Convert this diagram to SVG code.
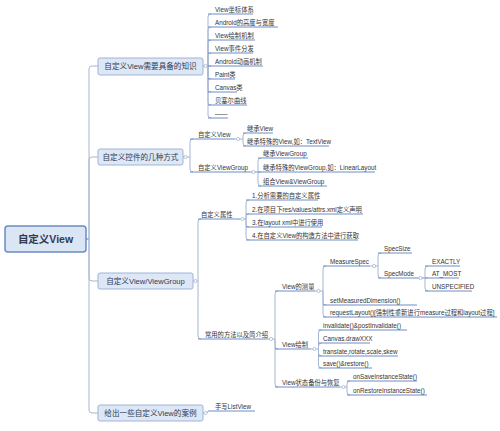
<svg xmlns="http://www.w3.org/2000/svg" width="500" height="431" viewBox="0 0 500 431">
<style>
text{font-family:"Liberation Sans","Noto Sans CJK SC",sans-serif;}
.t{font-size:6.3px;fill:#333;}
.u{stroke:#6d8dc7;stroke-width:1;}
.c{fill:none;stroke:#a6b6d3;stroke-width:1;}
.k{fill:#fff;stroke:#a6b6d3;stroke-width:0.8;}
.b{fill:#dde7f5;stroke:#9fb4d8;stroke-width:1;}
.bt{font-size:7.6px;fill:#2f3b52;text-anchor:middle;}
.r{fill:#dbe6f5;stroke:#6a8cc4;stroke-width:1.5;}
.rt{font-size:10.5px;font-weight:bold;fill:#2f3b52;text-anchor:middle;}
</style>
<rect width="500" height="431" fill="#fff"/>
<g id="connectors">
<path class="c" d="M86 239 H89 V69 Q89 66 92 66 H98"/>
<path class="c" d="M86 239 H89 V160 Q89 157 92 157 H98"/>
<path class="c" d="M86 239 H89 V278 Q89 281 92 281 H98"/>
<path class="c" d="M86 239 H89 V410 Q89 413 92 413 H98"/>
<path class="c" d="M203 66 H208 V17 Q208 14 211 14 M208 66 V30 Q208 27 211 27 M208 66 V43 Q208 40 211 40 M208 66 V56 Q208 53 211 53 M203 66 H211 M208 66 V76 Q208 79 211 79 M208 66 V89 Q208 92 211 92 M208 66 V102 Q208 105 211 105 M208 66 V115 Q208 118 211 118"/>
<path class="c" d="M183 157 H190 V142 Q190 139 193 139 M190 157 V169 Q190 172 193 172"/>
<path class="c" d="M235 139 H243 V136 Q243 133 246 133 M243 139 V143 Q243 146 246 146"/>
<path class="c" d="M250 172 H258 V161 Q258 158 261 158 M250 172 H261 M258 172 V183 Q258 186 261 186"/>
<path class="c" d="M193 281 H198 V222 Q198 219 201 219 M198 281 V336 Q198 339 201 339"/>
<path class="c" d="M240 219 H246 V203 Q246 200 249 200 M246 219 V217 Q246 214 249 214 M246 219 V224 Q246 227 249 227 M246 219 V237 Q246 240 249 240"/>
<path class="c" d="M268 339 H275 V294 Q275 291 278 291 M275 339 V346 Q275 349 278 349 M275 339 V384 Q275 387 278 387"/>
<path class="c" d="M315 291 H323 V269 Q323 266 326 266 M323 291 V302 Q323 305 326 305 M323 291 V314 Q323 317 326 317"/>
<path class="c" d="M370 266 H378 V256 Q378 253 381 253 M378 266 V275 Q378 278 381 278"/>
<path class="c" d="M417 278 H425 V269 Q425 266 428 266 M417 278 H428 M425 278 V288 Q425 291 428 291"/>
<path class="c" d="M311 349 H318.5 V333 Q318.5 330 321.5 330 M318.5 349 V346 Q318.5 343 321.5 343 M318.5 349 V353 Q318.5 356 321.5 356 M318.5 349 V365 Q318.5 368 321.5 368"/>
<path class="c" d="M340 387 H347 V384 Q347 381 350 381 M347 387 V392 Q347 395 350 395"/>
<path class="c" d="M203 413 H206 Q208 413 208 411"/>
<circle class="k" cx="205.5" cy="66" r="1.6"/>
<circle class="k" cx="185.5" cy="157" r="1.6"/>
<circle class="k" cx="238" cy="139" r="1.6"/>
<circle class="k" cx="253.5" cy="172" r="1.6"/>
<circle class="k" cx="195.5" cy="281" r="1.6"/>
<circle class="k" cx="242.5" cy="219" r="1.6"/>
<circle class="k" cx="271" cy="339" r="1.6"/>
<circle class="k" cx="318.5" cy="291" r="1.6"/>
<circle class="k" cx="374" cy="266" r="1.6"/>
<circle class="k" cx="420.5" cy="278" r="1.6"/>
<circle class="k" cx="314.5" cy="349" r="1.6"/>
<circle class="k" cx="343.5" cy="387" r="1.6"/>
<circle class="k" cx="205.5" cy="413" r="1.6"/>
</g>
<g id="root"><rect class="r" x="5" y="226" width="81" height="26" rx="3"/><text class="rt" x="45.5" y="243">自定义View</text></g>
<g id="b1"><rect class="b" x="98" y="58" width="105" height="17" rx="2"/><text class="bt" x="150.5" y="69.3">自定义View需要具备的知识</text></g>
<g id="b2"><rect class="b" x="98" y="149" width="85" height="16" rx="2"/><text class="bt" x="140.5" y="159.8">自定义控件的几种方式</text></g>
<g id="b3"><rect class="b" x="98" y="273" width="95" height="16" rx="2"/><text class="bt" x="145.5" y="283.8">自定义View/ViewGroup</text></g>
<g id="b4"><rect class="b" x="98" y="405" width="105" height="16" rx="2"/><text class="bt" x="150.5" y="415.8">给出一些自定义View的案例</text></g>
<g id="n1a"><line class="u" x1="208" y1="14" x2="253" y2="14"/><text class="t" x="215" y="12">View坐标体系</text></g>
<g id="n1b"><line class="u" x1="208" y1="27" x2="278" y2="27"/><text class="t" x="215" y="25">Android的高度与宽度</text></g>
<g id="n1c"><line class="u" x1="208" y1="40" x2="255" y2="40"/><text class="t" x="215" y="38">View绘制机制</text></g>
<g id="n1d"><line class="u" x1="208" y1="53" x2="253" y2="53"/><text class="t" x="215" y="51">View事件分发</text></g>
<g id="n1e"><line class="u" x1="208" y1="66" x2="263" y2="66"/><text class="t" x="215" y="64">Android动画机制</text></g>
<g id="n1f"><line class="u" x1="208" y1="79" x2="235" y2="79"/><text class="t" x="215" y="77">Paint类</text></g>
<g id="n1g"><line class="u" x1="208" y1="92" x2="237" y2="92"/><text class="t" x="215" y="90">Canvas类</text></g>
<g id="n1h"><line class="u" x1="208" y1="105" x2="247" y2="105"/><text class="t" x="215" y="103">贝塞尔曲线</text></g>
<g id="n1i"><line class="u" x1="208" y1="118" x2="228" y2="118"/><text class="t" x="215" y="116">——</text></g>
<g id="n2a"><line class="u" x1="190" y1="139" x2="235" y2="139"/><text class="t" x="198" y="137">自定义View</text></g>
<g id="n2a1"><line class="u" x1="243" y1="133" x2="273" y2="133"/><text class="t" x="247" y="131">继承View</text></g>
<g id="n2a2"><line class="u" x1="243" y1="146" x2="329" y2="146"/><text class="t" x="247" y="144">继承特殊的View,如：TextView</text></g>
<g id="n2b"><line class="u" x1="190" y1="172" x2="250" y2="172"/><text class="t" x="198" y="170">自定义ViewGroup</text></g>
<g id="n2b1"><line class="u" x1="258" y1="158" x2="308" y2="158"/><text class="t" x="263" y="156">继承ViewGroup</text></g>
<g id="n2b2"><line class="u" x1="258" y1="172" x2="375" y2="172"/><text class="t" x="263" y="170">继承特殊的ViewGroup,如：LinearLayout</text></g>
<g id="n2b3"><line class="u" x1="258" y1="186" x2="327" y2="186"/><text class="t" x="263" y="184">组合View&amp;ViewGroup</text></g>
<g id="n3a"><line class="u" x1="198" y1="219" x2="240" y2="219"/><text class="t" x="201" y="217">自定义属性</text></g>
<g id="n3a1"><line class="u" x1="246" y1="200" x2="318" y2="200"/><text class="t" x="252" y="198">1.分析需要的自定义属性</text></g>
<g id="n3a2"><line class="u" x1="246" y1="214" x2="363" y2="214"/><text class="t" x="252" y="212">2.在项目下res/values/attrs.xml定义声明</text></g>
<g id="n3a3"><line class="u" x1="246" y1="227" x2="322" y2="227"/><text class="t" x="252" y="225">3.在layout xml中进行使用</text></g>
<g id="n3a4"><line class="u" x1="246" y1="240" x2="358" y2="240"/><text class="t" x="252" y="238">4.在自定义View的构造方法中进行获取</text></g>
<g id="n3b"><line class="u" x1="198" y1="339" x2="268" y2="339"/><text class="t" x="205" y="337">常用的方法以及简介绍</text></g>
<g id="n3b1"><line class="u" x1="275" y1="291" x2="315" y2="291"/><text class="t" x="282" y="289">View的测量</text></g>
<g id="n3b1a"><line class="u" x1="323" y1="266" x2="370" y2="266"/><text class="t" x="330" y="264">MeasureSpec</text></g>
<g id="n3b1a1"><line class="u" x1="378" y1="253" x2="412" y2="253"/><text class="t" x="384" y="251">SpecSize</text></g>
<g id="n3b1a2"><line class="u" x1="378" y1="278" x2="417" y2="278"/><text class="t" x="384" y="276">SpecMode</text></g>
<g id="n3m1"><line class="u" x1="425" y1="266" x2="460" y2="266"/><text class="t" x="432" y="264">EXACTLY</text></g>
<g id="n3m2"><line class="u" x1="425" y1="278" x2="459" y2="278"/><text class="t" x="432" y="276">AT_MOST</text></g>
<g id="n3m3"><line class="u" x1="425" y1="291" x2="472" y2="291"/><text class="t" x="432" y="289">UNSPECIFIED</text></g>
<g id="n3b1b"><line class="u" x1="323" y1="305" x2="417" y2="305"/><text class="t" x="330" y="303">setMeasuredDimension()</text></g>
<g id="n3b1c"><line class="u" x1="323" y1="317" x2="497" y2="317"/><text class="t" x="330" y="315">requestLayout()[强制性重新进行measure过程和layout过程]</text></g>
<g id="n3b2"><line class="u" x1="275" y1="349" x2="311" y2="349"/><text class="t" x="282" y="347">View绘制</text></g>
<g id="n3b2a"><line class="u" x1="318.5" y1="330" x2="407" y2="330"/><text class="t" x="323" y="328">invalidate()&amp;postInvalidate()</text></g>
<g id="n3b2b"><line class="u" x1="318.5" y1="343" x2="370" y2="343"/><text class="t" x="323" y="341">Canvas.drawXXX</text></g>
<g id="n3b2c"><line class="u" x1="318.5" y1="356" x2="398" y2="356"/><text class="t" x="323" y="354">translate,rotate,scale,skew</text></g>
<g id="n3b2d"><line class="u" x1="318.5" y1="368" x2="372" y2="368"/><text class="t" x="323" y="366">save()&amp;restore()</text></g>
<g id="n3b3"><line class="u" x1="275" y1="387" x2="340" y2="387"/><text class="t" x="282" y="385">View状态备份与恢复</text></g>
<g id="n3b3a"><line class="u" x1="347" y1="381" x2="417" y2="381"/><text class="t" x="353" y="379">onSaveInstanceState()</text></g>
<g id="n3b3b"><line class="u" x1="347" y1="395" x2="427" y2="395"/><text class="t" x="353" y="393">onRestoreInstanceState()</text></g>
<g id="n4a"><line class="u" x1="208" y1="411" x2="255" y2="411"/><text class="t" x="215" y="409">手写ListView</text></g>
</svg>
